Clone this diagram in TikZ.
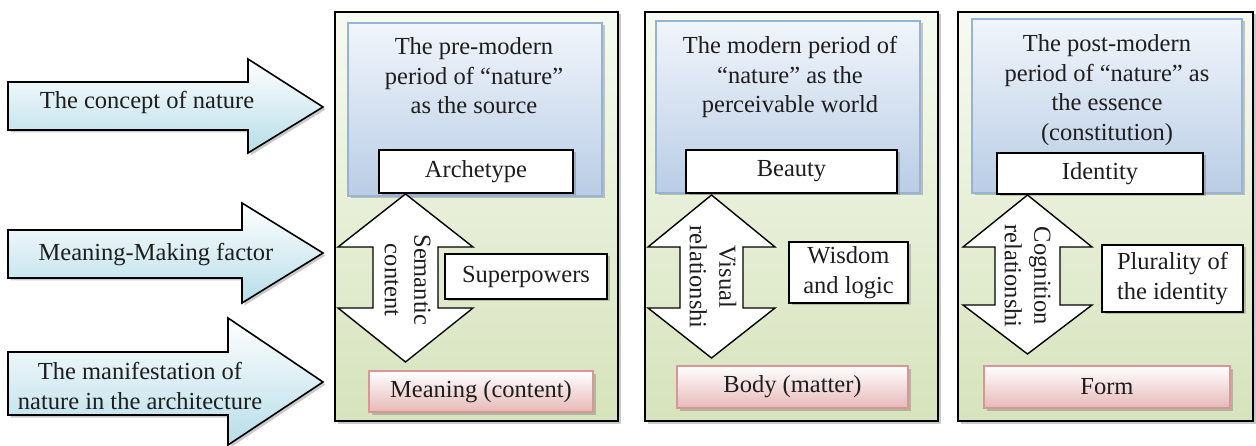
\documentclass[tikz,border=0pt]{standalone}
\usepackage{fontspec}
\setmainfont{Liberation Serif}
\usetikzlibrary{shadows}

\definecolor{aquaLow}{RGB}{183,221,232}
\definecolor{oliveTop}{RGB}{247,250,241}
\definecolor{oliveLow}{RGB}{214,227,188}
\definecolor{blueTop}{RGB}{241,245,251}
\definecolor{blueLow}{RGB}{185,205,229}
\definecolor{blueEdge}{RGB}{149,179,215}
\definecolor{pinkLow}{RGB}{230,185,184}
\definecolor{pinkEdge}{RGB}{217,150,148}
\definecolor{ink}{RGB}{30,30,30}

\begin{document}
\begin{tikzpicture}[x=1pt,y=-1pt,
  txt/.style={font=\fontsize{24.5}{29.5}\selectfont, align=center, text=ink, inner sep=0pt},
  softshadow/.style={drop shadow={shadow xshift=2.5pt, shadow yshift=-2.5pt, opacity=0.35, fill=black!60}},
  sidearrow/.style={draw=black, line width=1.6pt, line join=miter, top color=white, bottom color=aquaLow, softshadow},
  panel/.style={draw=black, line width=1.8pt, top color=oliveTop, bottom color=oliveLow, softshadow},
  periodbox/.style={draw=blueEdge, line width=1.2pt, top color=blueTop, bottom color=blueLow, softshadow},
  keybox/.style={txt, draw=black, line width=1.4pt, fill=white, rectangle, softshadow},
  resultbox/.style={txt, draw=pinkEdge, line width=1.2pt, top color=white, bottom color=pinkLow, rectangle, softshadow},
  twoway/.style={draw=black, line width=1.4pt, line join=miter, fill=white}]

\useasboundingbox (0,0) rectangle (1256,446);

% ---- row labels on the left ----
\draw[sidearrow] (8,82) -- (248,82) -- (248,59) -- (323,107) -- (248,153) -- (248,130) -- (8,130) -- cycle;
\node[txt] (concept) at (147,102) {The concept of nature};

\draw[sidearrow] (8,230) -- (242,230) -- (242,203) -- (323,253) -- (242,303) -- (242,278) -- (8,278) -- cycle;
\node[txt] (factor) at (156,255) {Meaning-Making factor};

\draw[sidearrow] (8,352) -- (228,352) -- (228,318) -- (323,382) -- (228,445) -- (228,415) -- (8,415) -- cycle;
\node[txt] (manifest) at (140,386) {The manifestation of\\nature in the architecture};

% ---- panel 1: pre-modern ----
\draw[panel] (335,12) rectangle (618,421);
\draw[periodbox] (348,23) rectangle (602,196);
\node[txt] (t1) at (474,76) {The pre-modern\\period of \textquotedblleft nature\textquotedblright\\as the source};
\node[keybox, minimum width=194pt, minimum height=43pt] (arch) at (476,171.5) {Archetype};
\draw[twoway] (405.5,194) -- (473,247) -- (438,247) -- (438,308) -- (473,308) -- (405.5,362)
  -- (338,308) -- (373,308) -- (373,247) -- (338,247) -- cycle;
\node[txt, rotate=-90] (sem) at (407.5,280) {Semantic\\content};
\node[keybox, minimum width=162pt, minimum height=45pt] (sup) at (526,276.5) {Superpowers};
\node[resultbox, minimum width=224pt, minimum height=41pt] (mean) at (481,391.5) {Meaning (content)};

% ---- panel 2: modern ----
\draw[panel] (645,12) rectangle (938,421);
\draw[periodbox] (656,21) rectangle (920,193);
\node[txt] (t2) at (790,77) {The modern period of\\\textquotedblleft nature\textquotedblright\ as the\\perceivable world};
\node[keybox, minimum width=211pt, minimum height=43pt] (beauty) at (791.5,171.5) {Beauty};
\draw[twoway] (711.5,195) -- (775,247) -- (743,247) -- (743,308) -- (775,308) -- (711.5,358)
  -- (648,308) -- (680,308) -- (680,247) -- (648,247) -- cycle;
\node[txt, rotate=-90] (vis) at (713,277) {Visual\\relationshi};
\node[keybox, minimum width=119pt, minimum height=61pt] (wis) at (848.5,272.5) {Wisdom\\and logic};
\node[resultbox, minimum width=231pt, minimum height=42pt] (body) at (792.5,387) {Body (matter)};

% ---- panel 3: post-modern ----
\draw[panel] (958,12) rectangle (1253,421);
\draw[periodbox] (972,19) rectangle (1242,193);
\node[txt] (t3) at (1107,90) {The post-modern\\period of \textquotedblleft nature\textquotedblright\ as\\the essence\\(constitution)};
\node[keybox, minimum width=206pt, minimum height=41pt] (ident) at (1100,173.5) {Identity};
\draw[twoway] (1027.5,195) -- (1092,247) -- (1060,247) -- (1060,305) -- (1092,305) -- (1027.5,354)
  -- (963,305) -- (995,305) -- (995,247) -- (963,247) -- cycle;
\node[txt, rotate=-90] (cog) at (1027.5,276) {Cognition\\relationshi};
\node[keybox, minimum width=141pt, minimum height=67pt] (plur) at (1172.5,278.5) {Plurality of\\the identity};
\node[resultbox, minimum width=246pt, minimum height=42pt] (form) at (1107,387) {Form};

\end{tikzpicture}
\end{document}
